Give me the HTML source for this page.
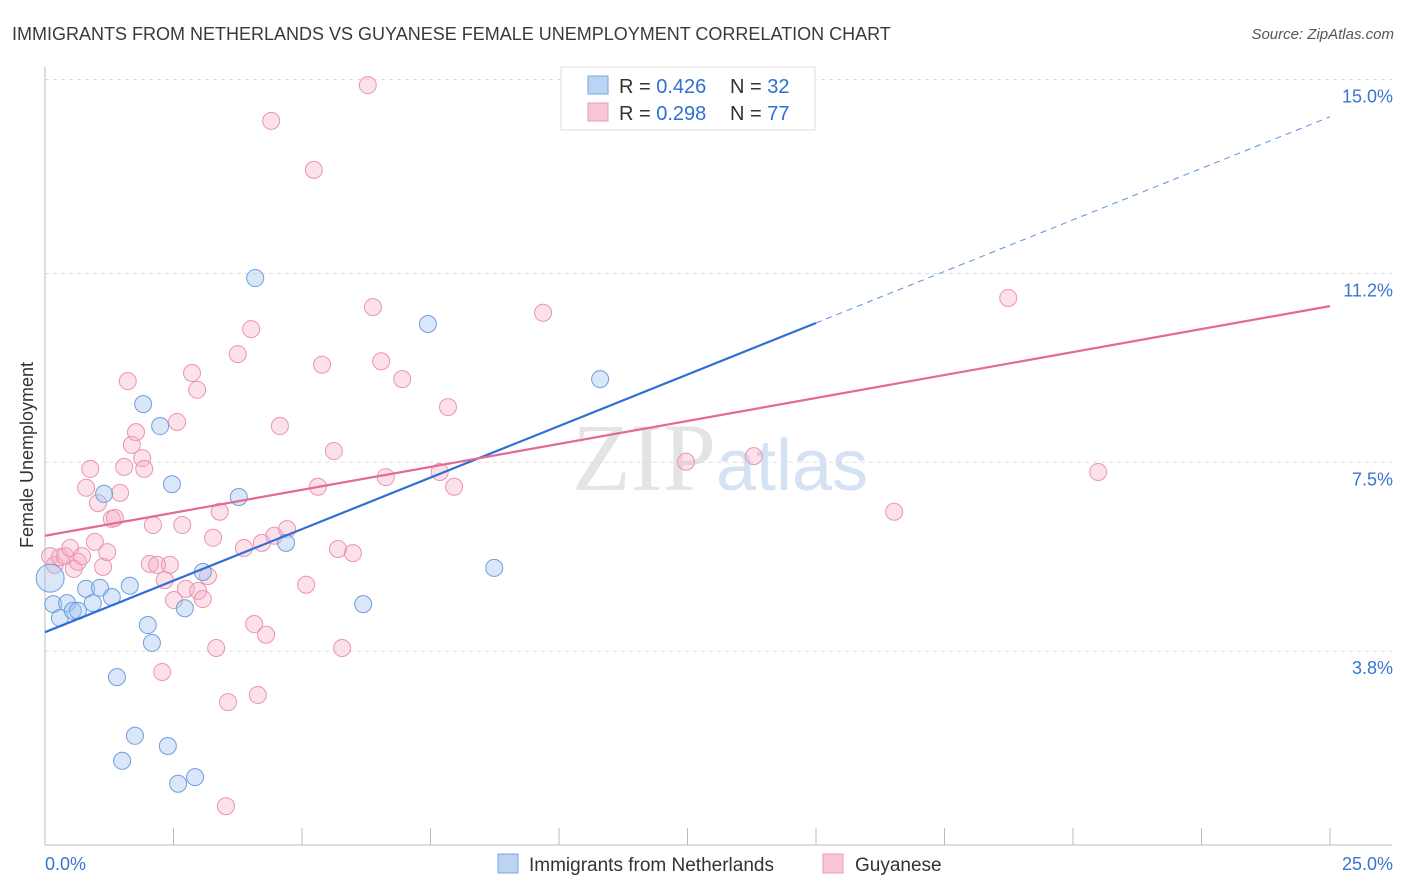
<!DOCTYPE html>
<html><head><meta charset="utf-8"><style>
body{margin:0;background:#fff;font-family:"Liberation Sans",sans-serif}
svg{display:block}
</style></head><body>
<svg id="chart" width="1406" height="892" xmlns="http://www.w3.org/2000/svg">
<text x="12" y="40" font-size="18" fill="#3a3a3a">IMMIGRANTS FROM NETHERLANDS VS GUYANESE FEMALE UNEMPLOYMENT CORRELATION CHART</text>
<text x="1394" y="39" font-size="15" fill="#555" font-style="italic" text-anchor="end">Source: ZipAtlas.com</text>
<text x="720" y="490" font-size="96" fill="#e4e4e4" text-anchor="middle" font-family="Liberation Serif">ZIP<tspan fill="#d4e2f4" font-family="Liberation Sans" font-size="72">atlas</tspan></text>
<g id="grid"></g><g id="axes"></g><g id="pts"></g><g id="trends"></g>
<text transform="translate(33,455) rotate(-90)" font-size="18" fill="#333" text-anchor="middle">Female Unemployment</text>
<g>
<rect x="561" y="67" width="254" height="63" fill="#fff" stroke="#ddd"/>
<rect x="588" y="76" width="20" height="18" fill="#bcd4f4" stroke="#7aa6e0"/>
<rect x="588" y="103" width="20" height="18" fill="#f9c6d6" stroke="#eb9ab5"/>
<text x="619" y="93" font-size="20" fill="#333">R = <tspan fill="#2f6fd4">0.426</tspan></text>
<text x="730" y="93" font-size="20" fill="#333">N = <tspan fill="#2f6fd4">32</tspan></text>
<text x="619" y="120" font-size="20" fill="#333">R = <tspan fill="#2f6fd4">0.298</tspan></text>
<text x="730" y="120" font-size="20" fill="#333">N = <tspan fill="#2f6fd4">77</tspan></text>
</g>
<g>
<rect x="498" y="854" width="20" height="19" fill="#bcd4f4" stroke="#7aa6e0"/>
<text x="529" y="871" font-size="19" fill="#333">Immigrants from Netherlands</text>
<rect x="823" y="854" width="20" height="19" fill="#f9c6d6" stroke="#eb9ab5"/>
<text x="855" y="871" font-size="19" fill="#333">Guyanese</text>
</g>
</svg>
<script>
const blueX=[.10,.16,.29,.43,.54,.64,.80,.93,1.07,1.15,1.30,1.40,1.50,1.65,1.75,1.91,2.00,2.08,2.24,2.39,2.47,2.59,2.72,2.92,3.07,3.77,4.09,4.69,6.19,7.45,8.74,10.80];
const blueY=[5.23,4.72,4.45,4.74,4.59,4.59,5.02,4.74,5.04,6.88,4.86,3.29,1.65,5.08,2.14,8.64,4.31,3.96,8.21,1.94,7.07,1.20,4.64,1.33,5.35,6.82,11.11,5.92,4.72,10.21,5.43,9.13];
const pinkX=[.10,.19,.29,.39,.49,.56,.64,.72,.80,.88,.97,1.03,1.13,1.21,1.30,1.36,1.46,1.54,1.61,1.69,1.77,1.89,1.93,2.04,2.10,2.18,2.28,2.33,2.43,2.51,2.57,2.67,2.74,2.86,2.96,2.98,3.07,3.17,3.27,3.33,3.40,3.56,3.75,3.87,4.01,4.07,4.14,4.22,4.30,4.40,4.46,4.57,4.71,5.08,5.23,5.31,5.39,5.62,5.70,5.78,5.99,6.28,6.38,6.54,6.63,6.95,7.68,7.84,7.96,9.69,12.47,13.79,16.52,18.74,20.49,3.52];
const pinkY=[5.66,5.49,5.64,5.66,5.82,5.41,5.55,5.66,7.00,7.37,5.94,6.70,5.45,5.74,6.39,6.41,6.90,7.41,9.09,7.84,8.09,7.58,7.37,5.51,6.27,5.49,3.39,5.19,5.49,4.80,8.29,6.27,5.02,9.25,8.92,4.98,4.82,5.27,6.02,3.86,6.53,2.80,9.62,5.82,10.11,4.33,2.94,5.92,4.12,14.19,6.06,8.21,6.19,5.10,13.23,7.02,9.41,7.72,5.80,3.86,5.72,14.89,10.54,9.48,7.21,9.13,7.31,8.58,7.02,10.43,7.51,7.62,6.53,10.72,7.31,0.76];
const yTicks=[15.0,11.2,7.5,3.8];
const yTickLabels=["15.0%","11.2%","7.5%","3.8%"];
const blueTrend=[4.17,10.23,14.27]; // at x=0, 15, 25
const pinkTrend=[6.06,10.56]; // at x=0, 25
const NS='http://www.w3.org/2000/svg';
const sx=v=>45+v*51.4, sy=v=>845-v*51.03;
function mk(tag,attrs,parent){const e=document.createElementNS(NS,tag);for(const k in attrs)e.setAttribute(k,attrs[k]);document.getElementById(parent).appendChild(e);return e;}
yTicks.forEach((t,i)=>{
 const l=mk('line',{x1:45,x2:1392,y1:sy(t),y2:sy(t),stroke:'#ddd','stroke-dasharray':'4,4'},'grid');
 
 
 const tx=mk('text',{x:1393,y:sy(t)+23,'font-size':18,fill:'#3a74d0','text-anchor':'end'},'grid');
 tx.textContent=yTickLabels[i];
 
 
});
const ax=mk('line',{x1:45,x2:45,y1:67,y2:845,stroke:'#bbb'},'axes');


const bx=mk('line',{x1:45,x2:1392,y1:845,y2:845,stroke:'#bbb'},'axes');


for(let i=0;i<=10;i++){const t=mk('line',{x1:sx(i*2.5),x2:sx(i*2.5),y1:828,y2:845,stroke:'#bbb'},'axes');
 
 }
[[0,"0.0%",'start',45],[25,"25.0%",'end',1393]].forEach(a=>{const t=mk('text',{x:a[3],y:870,'font-size':18,fill:'#3a74d0','text-anchor':a[2]},'axes');t.textContent=a[1];
 
 });
pinkX.forEach((x,i)=>{const c=mk('circle',{cx:sx(x),cy:sy(pinkY[i]),r:8.5,fill:'rgba(246,170,195,0.35)',stroke:'#eb94b1','stroke-width':1},'pts');
 
 });
blueX.forEach((x,i)=>{const c=mk('circle',{cx:sx(x),cy:sy(blueY[i]),r:i===0?14:8.5,fill:'rgba(160,195,240,0.4)',stroke:'#6e9fe0','stroke-width':1},'pts');
 
 });
const b1=mk('line',{x1:sx(0),y1:sy(blueTrend[0]),x2:sx(15),y2:sy(blueTrend[1]),stroke:'#2f6fd4','stroke-width':2.2},'trends');


const b2=mk('line',{x1:sx(15),y1:sy(blueTrend[1]),x2:sx(25),y2:sy(blueTrend[2]),stroke:'#5a8fdc','stroke-width':1,'stroke-dasharray':'6,5'},'trends');


const p1=mk('line',{x1:sx(0),y1:sy(pinkTrend[0]),x2:sx(25),y2:sy(pinkTrend[1]),stroke:'#e46a93','stroke-width':2.2},'trends');


</script>
</body></html>
